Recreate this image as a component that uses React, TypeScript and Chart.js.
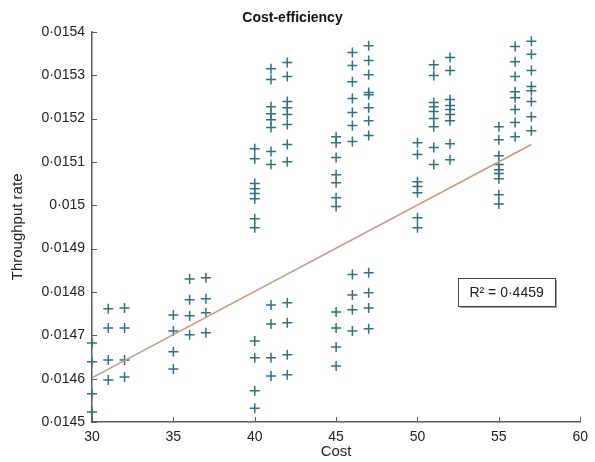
import React, { useEffect, useRef } from "react";
import { Chart, registerables } from "chart.js";

Chart.register(...registerables);

// ---- data ----
const costs = [30, 31, 32, 35, 36, 37, 40, 41, 42, 45, 46, 47, 50, 51, 52, 55, 56, 57];
const t30 = [0.014682, 0.014639, 0.014565, 0.014523];
const t31 = [0.014761, 0.014717, 0.014643, 0.014597];
const t32 = [0.014763, 0.014717, 0.014643, 0.014604];
const t35 = [0.014747, 0.01471, 0.014662, 0.014622];
const t36 = [0.01483, 0.014782, 0.014745, 0.014701];
const t37 = [0.014833, 0.014784, 0.014752, 0.014706];
const t40 = [0.01513, 0.015107, 0.01505, 0.015038, 0.015027, 0.015015, 0.014969, 0.014948, 0.014687, 0.014648, 0.014572, 0.014532];
const t41 = [0.015315, 0.01529, 0.015227, 0.015211, 0.015197, 0.015179, 0.015124, 0.015094, 0.01477, 0.014726, 0.014648, 0.014606];
const t42 = [0.015329, 0.015297, 0.015239, 0.015225, 0.015209, 0.015186, 0.01514, 0.0151, 0.014775, 0.014729, 0.014655, 0.014609];
const t45 = [0.015158, 0.015144, 0.01511, 0.01507, 0.015052, 0.015017, 0.014997, 0.014754, 0.014717, 0.014673, 0.014629];
const t46 = [0.015352, 0.015322, 0.015285, 0.015246, 0.015214, 0.015184, 0.015147, 0.01484, 0.014793, 0.014759, 0.01471];
const t47 = [0.015368, 0.015334, 0.015301, 0.01526, 0.015255, 0.015225, 0.015195, 0.015161, 0.014844, 0.014798, 0.014763, 0.014715];
const t50 = [0.015144, 0.015117, 0.015054, 0.015043, 0.015029, 0.014971, 0.014948];
const t51 = [0.015324, 0.015299, 0.015237, 0.015227, 0.015216, 0.0152, 0.015181, 0.015133, 0.015094];
const t52 = [0.015341, 0.015311, 0.015244, 0.01523, 0.015221, 0.015209, 0.015195, 0.015142, 0.015105];
const t55 = [0.015181, 0.015151, 0.015114, 0.015094, 0.015082, 0.015073, 0.015061, 0.015024, 0.015003];
const t56 = [0.015366, 0.015331, 0.015297, 0.015262, 0.015248, 0.015221, 0.015191, 0.015158];
const t57 = [0.015378, 0.015348, 0.015311, 0.015274, 0.015264, 0.015239, 0.015204, 0.015172];
const throughputByCost = [t30, t31, t32, t35, t36, t37, t40, t41, t42, t45, t46, t47, t50, t51, t52, t55, t56, t57];

const trendCost = [30, 57];
const trendThroughput = [0.014602, 0.01514];
const rSquaredLabel = "R\u00B2 = 0\u00B74459";

const xTicks = [30, 35, 40, 45, 50, 55, 60];
const yTicks = [0.0145, 0.0146, 0.0147, 0.0148, 0.0149, 0.015, 0.0151, 0.0152, 0.0153, 0.0154];

const FONT = '"Liberation Sans", Arial, sans-serif';
const AXIS = "#5a5a5a";

const fmt = (v: number) => String(Number(v.toFixed(6))).replace(".", "\u00B7");

const inwardTicks = {
  id: "inwardTicks",
  afterDraw(chart: any) {
    const { ctx, chartArea, scales } = chart;
    const x = scales.x;
    const y = scales.y;
    ctx.save();
    ctx.strokeStyle = AXIS;
    ctx.lineWidth = 1;
    ctx.beginPath();
    xTicks.forEach((v) => {
      const px = Math.round(x.getPixelForValue(v)) + 0.5;
      ctx.moveTo(px, chartArea.bottom);
      ctx.lineTo(px, chartArea.bottom - 5);
    });
    yTicks.forEach((v) => {
      const py = Math.round(y.getPixelForValue(v)) + 0.5;
      ctx.moveTo(chartArea.left, py);
      ctx.lineTo(chartArea.left + 5, py);
    });
    ctx.stroke();

    // R² box
    const bx1 = x.getPixelForValue(52.5);
    const bx2 = x.getPixelForValue(58.45);
    const cy = y.getPixelForValue(0.0148);
    const h = 28;
    const top = cy - h / 2;
    ctx.fillStyle = "#9a9a9a";
    ctx.fillRect(bx1 + 2, top + 2, bx2 - bx1, h);
    ctx.fillStyle = "#ffffff";
    ctx.fillRect(bx1, top, bx2 - bx1, h);
    ctx.strokeStyle = "#444";
    ctx.lineWidth = 1;
    ctx.strokeRect(Math.round(bx1) + 0.5, Math.round(top) + 0.5, Math.round(bx2 - bx1), h);
    ctx.fillStyle = "#222";
    ctx.font = `14px ${FONT}`;
    ctx.textAlign = "center";
    ctx.textBaseline = "middle";
    ctx.fillText(rSquaredLabel, (bx1 + bx2) / 2, cy + 1);
    ctx.restore();
  },
};

export default function App() {
  const ref = useRef<HTMLCanvasElement>(null);
  useEffect(() => {
    document.body.style.margin = "0";
    const points: { x: number; y: number }[] = [];
    costs.forEach((c, i) => throughputByCost[i].forEach((t) => points.push({ x: c, y: t })));
    const trend = trendCost.map((c, i) => ({ x: c, y: trendThroughput[i] }));
    const chart = new Chart(ref.current as HTMLCanvasElement, {
      type: "scatter",
      data: {
        datasets: [
          {
            type: "line",
            data: trend,
            borderColor: "#c99a80",
            borderWidth: 1.5,
            pointRadius: 0,
            fill: false,
          } as any,
          {
            data: points,
            pointStyle: "cross",
            pointRadius: 5,
            pointBorderWidth: 1.5,
            borderColor: "#2e7184",
            backgroundColor: "#2e7184",
            clip: false,
          } as any,
        ],
      },
      options: {
        animation: false,
        responsive: false,
        layout: { padding: { left: 0, right: 10, top: 0, bottom: 0 } },
        plugins: {
          legend: { display: false },
          tooltip: { enabled: false },
          title: {
            display: true,
            text: "Cost-efficiency",
            color: "#111",
            font: { family: FONT, size: 14, weight: "bold" },
            padding: { top: 10, bottom: 5 },
          },
        },
        scales: {
          x: {
            type: "linear",
            min: 30,
            max: 60,
            afterBuildTicks: (s: any) => {
              s.ticks = xTicks.map((v) => ({ value: v }));
            },
            afterFit: (s: any) => {
              s.height = 40;
            },
            grid: { display: false, drawTicks: false },
            border: { display: true, color: AXIS, width: 1.5 },
            ticks: {
              color: "#222",
              padding: 7,
              font: { family: FONT, size: 14 },
              callback: (v: any) => String(v),
            },
            title: {
              display: true,
              text: "Cost",
              color: "#222",
              font: { family: FONT, size: 15 },
              padding: { top: 0, bottom: 1 },
            },
          },
          y: {
            type: "linear",
            min: 0.0145,
            max: 0.0154,
            afterBuildTicks: (s: any) => {
              s.ticks = yTicks.map((v) => ({ value: v }));
            },
            afterFit: (s: any) => {
              s.width = 92;
            },
            grid: { display: false, drawTicks: false },
            border: { display: true, color: AXIS, width: 1.5 },
            ticks: {
              color: "#222",
              padding: 7,
              font: { family: FONT, size: 14 },
              callback: (v: any) => fmt(Number(v)),
            },
            title: {
              display: true,
              text: "Throughput rate",
              color: "#222",
              font: { family: FONT, size: 15 },
              padding: { top: 9, bottom: 0 },
            },
          },
        },
      } as any,
      plugins: [inwardTicks],
    });
    return () => chart.destroy();
  }, []);
  return (
    <div style={{ width: 595, height: 462 }}>
      <canvas ref={ref} width={595} height={462} style={{ display: "block" }} />
    </div>
  );
}
